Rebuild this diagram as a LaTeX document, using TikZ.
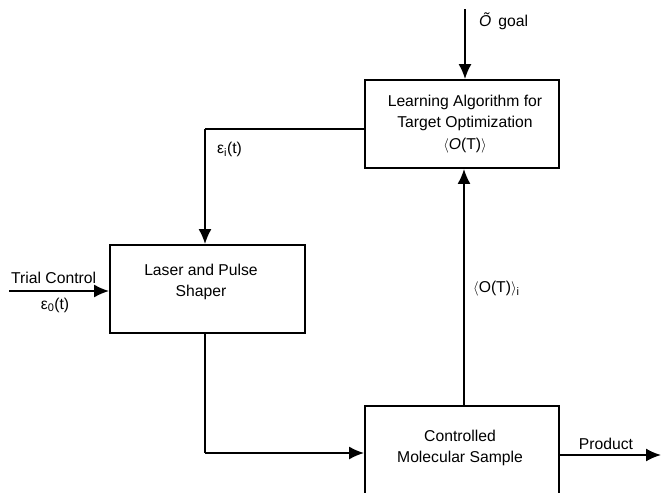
\documentclass[tikz,border=0pt]{standalone}
\usepackage{fontspec}
\setmainfont{Liberation Sans}
\usetikzlibrary{arrows.meta}
\tikzset{
  blk/.style={draw, line width=1.8pt, minimum width=194pt, minimum height=88pt, inner sep=0pt},
  arr/.style={line width=1.8pt, -{Latex[length=15pt,width=13pt]}},
  ln/.style={line width=1.8pt},
  lbl/.style={inner sep=0pt, align=center},
}
\newcommand{\lang}{\ensuremath{\langle}}
\newcommand{\rang}{\ensuremath{\rangle}}
\begin{document}
\begin{tikzpicture}[x=1pt, y=-1pt, font=\fontsize{15.7}{21.5}\selectfont]
\useasboundingbox (0,0) rectangle (662,493);
\clip (0,0) rectangle (662,493);
% boxes
\node[blk] (learn) at (462,124) {};
\node[lbl] (learntxt) at (465,124) {Learning Algorithm for\\Target Optimization\\\lang\textit{O}(T)\rang};
\node[blk, minimum width=195pt] (laser) at (207.5,289) {};
\node[lbl] (lasertxt) at (201,282) {Laser and Pulse\\Shaper};
\node[blk, minimum height=90pt] (ctrl) at (462,451) {};
\node[lbl] (ctrltxt) at (460,448) {Controlled\\Molecular Sample};
% coordinates
\coordinate (goalstart) at (465,9);
\coordinate (fb) at (205,129);
\coordinate (bot) at (205,453);
\coordinate (trialstart) at (9,291);
\coordinate (prodend) at (661,455);
\coordinate (up) at (464,0);
% connectors
\draw[arr] (goalstart) -- (learn.north -| goalstart);
\draw[ln] (learn.west |- fb) -- (fb);
\draw[arr] (fb) -- (laser.north -| fb);
\draw[ln] (laser.south -| fb) -- (bot);
\draw[arr] (bot) -- (ctrl.west |- bot);
\draw[arr] (ctrl.north -| up) -- (learn.south -| up);
\draw[arr] (trialstart) -- (laser.west |- trialstart);
\draw[arr] (ctrl.east |- prodend) -- (prodend);
% labels
\node[lbl, anchor=west] (goal) at (479,21) {\textit{\~O}\, goal};
\node[lbl, anchor=west] (epsi) at (217,149) {ε\textsubscript{i}(t)};
\node[lbl, anchor=west] (trial) at (11,278) {Trial Control};
\node[lbl] (eps0) at (55,305) {ε\textsubscript{0}(t)};
\node[lbl, anchor=west] (oti) at (473,289) {\lang O(T)\rang\textsubscript{i}};
\node[lbl] (prod) at (606,444) {Product};
\end{tikzpicture}
\end{document}
